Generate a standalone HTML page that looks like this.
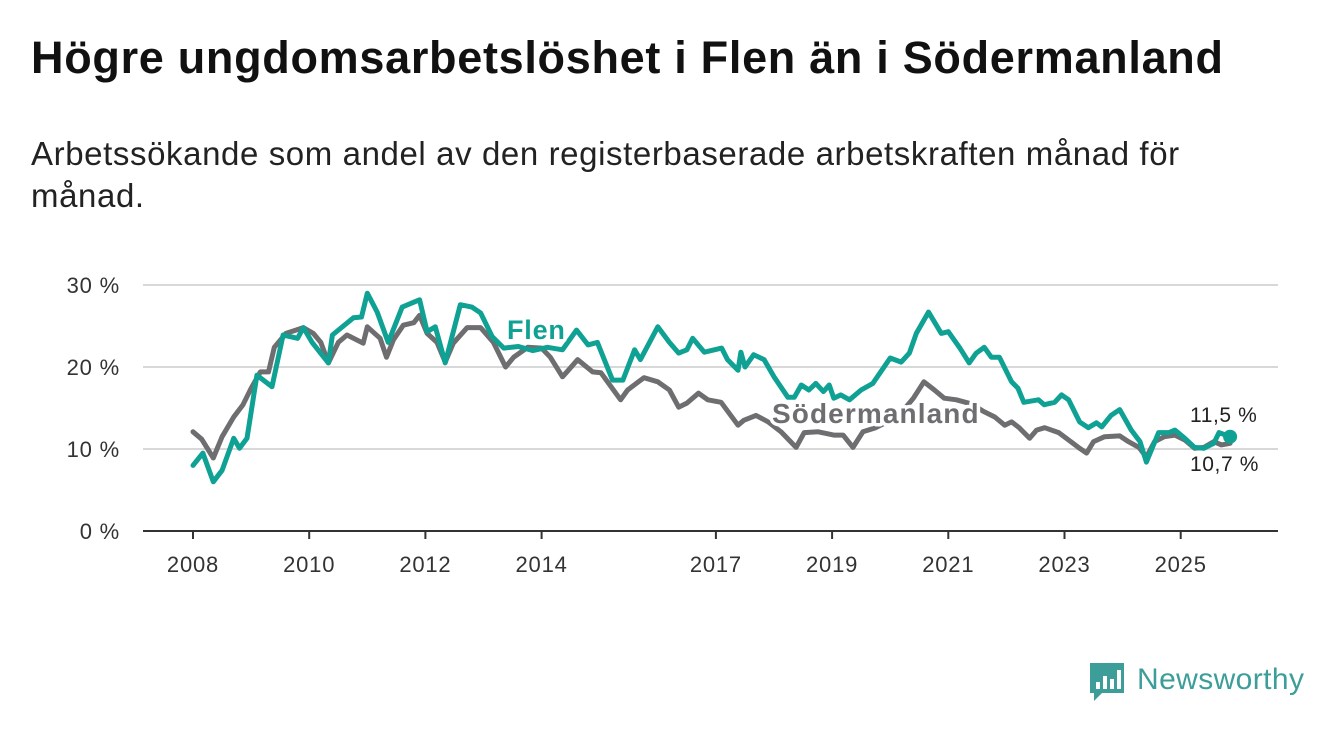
<!DOCTYPE html>
<html><head><meta charset="utf-8"><style>
body{margin:0;width:1340px;height:734px;background:#fff;font-family:"Liberation Sans",sans-serif;overflow:hidden;position:relative}
h1{position:absolute;left:31px;top:32px;margin:0;font-size:45px;font-weight:bold;color:#111;letter-spacing:0.7px}
p.sub{position:absolute;left:31px;top:133px;margin:0;font-size:33px;line-height:42px;color:#222;width:1175px;letter-spacing:0.6px}
svg{position:absolute;left:0;top:0}
</style></head><body>
<h1>Högre ungdomsarbetslöshet i Flen än i Södermanland</h1>
<p class="sub">Arbetssökande som andel av den registerbaserade arbetskraften månad för månad.</p>
<svg id="chart" width="1340" height="734"></svg>
<script>
const yTicks=[0,10,20,30];
const yTickLabels=["0 %","10 %","20 %","30 %"];
const xTicks=[2008,2010,2012,2014,2017,2019,2021,2023,2025];
const flenYears=[2008.0,2008.17,2008.35,2008.5,2008.7,2008.8,2008.93,2009.1,2009.36,2009.55,2009.8,2009.9,2010.05,2010.33,2010.4,2010.76,2010.9,2011.0,2011.17,2011.36,2011.6,2011.8,2011.9,2012.03,2012.17,2012.34,2012.6,2012.8,2012.95,2013.15,2013.35,2013.6,2013.85,2014.1,2014.36,2014.6,2014.8,2014.96,2015.22,2015.4,2015.6,2015.7,2016.0,2016.2,2016.36,2016.5,2016.6,2016.8,2017.1,2017.2,2017.38,2017.43,2017.5,2017.65,2017.83,2018.0,2018.24,2018.35,2018.47,2018.6,2018.72,2018.85,2018.95,2019.03,2019.15,2019.3,2019.5,2019.7,2020.0,2020.19,2020.33,2020.45,2020.66,2020.88,2021.0,2021.2,2021.36,2021.48,2021.62,2021.74,2021.88,2022.09,2022.2,2022.3,2022.55,2022.65,2022.83,2022.95,2023.07,2023.26,2023.41,2023.55,2023.64,2023.8,2023.95,2024.15,2024.3,2024.41,2024.62,2024.8,2024.9,2025.07,2025.24,2025.4,2025.57,2025.66,2025.85];
const flenValues=[8.0,9.5,6.0,7.4,11.3,10.1,11.3,19.0,17.6,23.9,23.5,24.8,23.0,20.5,23.9,26.0,26.1,29.0,26.7,23.0,27.3,27.9,28.2,24.3,24.9,20.5,27.6,27.3,26.6,23.7,22.3,22.5,22.0,22.4,22.1,24.5,22.7,23.0,18.4,18.4,22.1,20.9,24.9,23.0,21.7,22.1,23.5,21.8,22.3,20.9,19.6,21.8,20.0,21.5,20.9,18.8,16.3,16.3,17.8,17.2,18.0,17.0,17.8,16.2,16.6,16.0,17.2,18.0,21.1,20.6,21.7,24.1,26.7,24.1,24.3,22.3,20.5,21.7,22.4,21.2,21.2,18.2,17.4,15.7,16.0,15.4,15.7,16.6,16.0,13.3,12.6,13.2,12.7,14.1,14.8,12.3,10.9,8.4,12.0,12.0,12.3,11.3,10.2,10.1,10.7,12.0,11.5];
const sodYears=[2008.0,2008.15,2008.35,2008.5,2008.7,2008.86,2009.0,2009.16,2009.3,2009.4,2009.6,2009.9,2010.07,2010.2,2010.33,2010.5,2010.65,2010.93,2011.0,2011.22,2011.33,2011.45,2011.62,2011.8,2011.9,2012.03,2012.2,2012.34,2012.48,2012.72,2012.95,2013.17,2013.38,2013.52,2013.76,2014.0,2014.15,2014.36,2014.46,2014.62,2014.88,2015.02,2015.36,2015.48,2015.76,2016.0,2016.2,2016.36,2016.5,2016.7,2016.86,2017.09,2017.38,2017.48,2017.69,2017.9,2018.12,2018.38,2018.52,2018.76,2019.03,2019.19,2019.36,2019.53,2019.75,2020.0,2020.2,2020.4,2020.58,2020.76,2020.93,2021.14,2021.4,2021.6,2021.8,2021.97,2022.09,2022.22,2022.4,2022.52,2022.66,2022.9,2023.07,2023.24,2023.38,2023.5,2023.69,2023.95,2024.1,2024.28,2024.41,2024.55,2024.72,2024.9,2025.07,2025.24,2025.4,2025.57,2025.7,2025.85];
const sodValues=[12.1,11.2,8.9,11.5,13.9,15.4,17.4,19.4,19.4,22.4,24.1,24.8,24.1,23.0,20.5,23.0,23.9,22.9,24.9,23.5,21.2,23.3,25.1,25.4,26.3,24.1,23.0,20.6,22.9,24.8,24.8,23.0,20.0,21.2,22.4,22.3,21.2,18.8,19.6,20.9,19.4,19.3,16.0,17.2,18.7,18.2,17.2,15.1,15.6,16.8,16.0,15.7,12.9,13.5,14.1,13.3,12.1,10.2,12.0,12.1,11.7,11.7,10.2,12.1,12.6,13.5,14.5,16.2,18.2,17.2,16.2,16.0,15.5,14.6,13.9,12.9,13.3,12.6,11.3,12.3,12.6,12.0,11.1,10.2,9.5,10.9,11.5,11.6,10.9,10.2,9.0,10.9,11.5,11.7,11.1,10.1,10.2,10.9,10.5,10.7];

const svg=document.getElementById('chart');
const NS='http://www.w3.org/2000/svg';
const x0=143,x1=1278,yBase=531;
function xS(yr){return 193+(yr-2008)*58.1;}
function yS(v){return yBase-v*8.2;}
function mk(tag,attrs,parent){const e=document.createElementNS(NS,tag);for(const k in attrs)e.setAttribute(k,attrs[k]);(parent||svg).appendChild(e);return e;}

yTicks.forEach((t,i)=>{
  const g=mk('line',{x1:x0,x2:x1,y1:yS(t),y2:yS(t),stroke:t===0?'#333':'#d8d8d8','stroke-width':2});
  
  
  const l=mk('text',{x:120,y:yS(t)+8,'text-anchor':'end','font-size':22,'letter-spacing':0.8,fill:'#333'});
  l.textContent=yTickLabels[i];
  
  
});
xTicks.forEach(t=>{
  const tk=mk('line',{x1:xS(t),x2:xS(t),y1:yBase,y2:yBase+8,stroke:'#333','stroke-width':2});
  
  
  const l=mk('text',{x:xS(t),y:572,'text-anchor':'middle','font-size':22,'letter-spacing':0.8,fill:'#333'});
  l.textContent=t;
  
  
});
function line(ys,vs,color,name){
  const d=ys.map((y,i)=>(i?'L':'M')+xS(y).toFixed(1)+','+yS(vs[i]).toFixed(1)).join('');
  const p=mk('path',{d:d,fill:'none',stroke:color,'stroke-width':5,'stroke-linejoin':'round','stroke-linecap':'round'});
  
  
}
line(sodYears,sodValues,'#6e6d70','sodermanland-line');
line(flenYears,flenValues,'#0fa193','flen-line');
const dot=mk('circle',{cx:xS(flenYears[flenYears.length-1]),cy:yS(flenValues[flenValues.length-1]),r:7,fill:'#0fa193'});


function lab(x,y,txt,color,name,size,bold,ls){
  const t=mk('text',{x:x,y:y,'font-size':size,'font-weight':bold?'bold':'normal','letter-spacing':ls,fill:color,stroke:'#fff','stroke-width':bold?7:5,'paint-order':'stroke','stroke-linejoin':'round'});
  t.textContent=txt;
  
  
}
lab(507,339,'Flen','#0fa193','flen-label',27,true,0.8);
lab(772,423,'Södermanland','#6e6d70','sodermanland-label',28,true,1.1);
lab(1190,422,'11,5 %','#222','flen-end-value',21,false,0.6);
lab(1190,471,'10,7 %','#222','sodermanland-end-value',21,false,0.6);
</script>
<svg width="1340" height="734" style="pointer-events:none">
  <path d="M1090 663 h34 v30 h-22 l-8 8 v-8 h-4 z" fill="#3d9d98"/>
  <rect x="1096" y="682" width="4" height="7" fill="#fff"/>
  <rect x="1103" y="676" width="4" height="13" fill="#fff"/>
  <rect x="1110" y="679" width="4" height="10" fill="#fff"/>
  <rect x="1117" y="670" width="4" height="19" fill="#fff"/>
  <text x="1137" y="689" font-size="30" letter-spacing="0.4" fill="#3d9d98" font-family="Liberation Sans, sans-serif">Newsworthy</text>
</svg>
</body></html>
